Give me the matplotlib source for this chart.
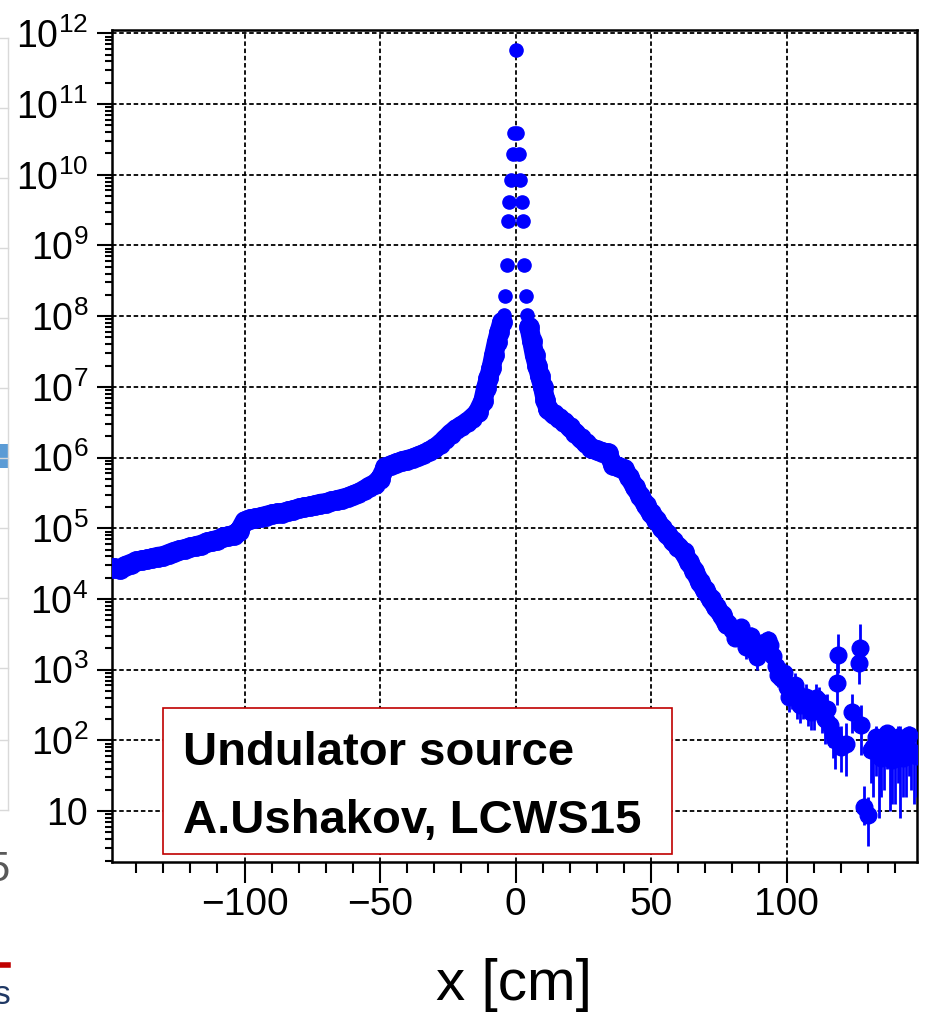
import matplotlib
matplotlib.use('Agg')
import matplotlib.pyplot as plt
import numpy as np
from matplotlib.lines import Line2D
from matplotlib.patches import Rectangle
from matplotlib.ticker import FixedLocator, LogLocator, NullFormatter, FuncFormatter

# values, counts given as log10
left_x = [-148, -146, -144, -142, -140, -138, -136, -134, -132, -130,
          -128, -126, -124, -122, -120, -118, -116, -114, -112, -110,
          -108, -106, -104, -102, -100, -98, -96, -94, -92, -90,
          -88, -86, -84, -82, -80, -78, -76, -74, -72, -70,
          -68, -66, -64, -62, -60, -58, -56, -54, -52, -50,
          -48, -46, -44, -42, -40, -38, -36, -34, -32, -30,
          -28, -26, -24, -22, -20, -18, -16, -14, -12, -11,
          -10, -9, -8, -7, -6, -5]
left_log = [4.44, 4.42, 4.47, 4.50, 4.53, 4.55, 4.56, 4.58, 4.60, 4.61,
            4.64, 4.67, 4.69, 4.71, 4.73, 4.75, 4.77, 4.80, 4.82, 4.84,
            4.87, 4.89, 4.91, 4.96, 5.10, 5.13, 5.14, 5.16, 5.18, 5.20,
            5.21, 5.22, 5.24, 5.26, 5.28, 5.30, 5.31, 5.33, 5.35, 5.36,
            5.38, 5.40, 5.42, 5.44, 5.47, 5.50, 5.54, 5.59, 5.63, 5.70,
            5.86, 5.89, 5.92, 5.95, 5.97, 5.99, 6.02, 6.05, 6.09, 6.13,
            6.19, 6.26, 6.34, 6.40, 6.45, 6.50, 6.56, 6.64, 6.80, 6.98,
            7.12, 7.26, 7.45, 7.63, 7.78, 7.92]

peak_x = [-4.2, -3.75, -3.3, -2.8, -2.3, -1.6, -1.1, -0.55, 0,
          0.55, 1.1, 1.6, 2.3, 2.8, 3.3, 3.75, 4.2]
peak_log = [8.01, 8.28, 8.72, 9.34, 9.62, 9.92, 10.29, 10.59, 11.77,
            10.59, 10.29, 9.92, 9.62, 9.34, 8.72, 8.28, 8.01]

right_x = [5, 6, 7, 8, 9, 10, 11, 12, 14, 16, 18, 20, 22, 24, 26, 28,
           30, 32, 34, 36, 38, 40, 42, 44, 46, 48, 50, 52, 54, 56, 58,
           60, 62, 64, 66, 68, 70, 72, 74, 76, 78]
right_log = [7.85, 7.65, 7.45, 7.30, 7.15, 7.00, 6.82, 6.68, 6.61, 6.56,
             6.50, 6.43, 6.35, 6.27, 6.20, 6.14, 6.10, 6.08, 6.06, 5.90,
             5.86, 5.84, 5.72, 5.58, 5.46, 5.33, 5.21, 5.12, 5.00, 4.92,
             4.82, 4.74, 4.66, 4.52, 4.40, 4.24, 4.12, 4.00, 3.88, 3.78,
             3.64]

tail_x = [80, 81, 82, 83, 84, 85, 86, 87, 88, 89, 90, 91, 92, 93, 94, 95,
          96, 97, 98, 99, 100, 101, 102, 103,
          104, 105, 106, 107, 108, 109, 110, 111, 112, 113, 114, 115, 116,
          117, 118, 118.5, 119, 120, 122, 124, 126.8, 127.2, 127.5, 128.5,
          130, 131, 132, 133, 134, 135, 136, 137, 138, 139, 140, 141, 142,
          143, 144, 145, 146, 147, 148]
tail_log = [3.56, 3.45, 3.50, 3.60, 3.44, 3.32, 3.36, 3.48, 3.27, 3.18,
            3.24, 3.38, 3.30, 3.42, 3.35, 3.20, 3.05, 2.92, 2.88, 2.95,
            2.75, 2.62, 2.68, 2.78, 2.60, 2.50, 2.55, 2.62, 2.48,
            2.40, 2.42, 2.60, 2.55, 2.40, 2.30, 2.45, 2.22, 2.10, 2.00,
            2.81, 3.21, 1.90, 1.95, 2.40, 3.09, 3.30, 2.22, 1.06, 0.94,
            1.86, 1.90, 2.05, 1.85, 1.75, 1.92, 2.10, 1.95, 1.72, 1.88,
            2.05, 1.96, 1.75, 1.90, 2.08, 1.85, 1.80, 1.78]
tail_lo = [3.45, 3.35, 3.40, 3.50, 3.30, 3.15, 3.22, 3.35, 3.12, 3.00,
           3.08, 3.25, 3.15, 3.30, 3.20, 3.05, 2.95, 2.75, 2.70, 2.80,
           2.55, 2.40, 2.45, 2.60, 2.30, 2.25, 2.30, 2.40, 2.20,
           2.15, 2.15, 2.35, 2.30, 2.10, 1.95, 2.10, 1.90, 1.75, 1.60,
           2.50, 2.95, 1.55, 1.50, 2.10, 2.80, 3.05, 1.80, 0.80, 0.50,
           1.40, 1.20, 1.50, 0.90, 1.20, 1.30, 1.60, 1.00, 1.10, 1.10,
           1.40, 0.90, 1.20, 1.20, 1.50, 1.30, 1.10, 1.20]
tail_hi = [3.66, 3.55, 3.62, 3.70, 3.58, 3.45, 3.50, 3.60, 3.40, 3.30,
           3.38, 3.50, 3.45, 3.55, 3.50, 3.32, 3.15, 3.05, 3.05, 3.10,
           2.95, 2.80, 2.85, 2.95, 2.80, 2.70, 2.75, 2.80, 2.70,
           2.60, 2.65, 2.80, 2.75, 2.60, 2.55, 2.65, 2.50, 2.35, 2.30,
           3.10, 3.50, 2.20, 2.25, 2.65, 3.35, 3.65, 2.50, 1.35, 1.20,
           2.10, 2.15, 2.20, 2.10, 2.00, 2.15, 2.20, 2.20, 1.95, 2.10,
           2.20, 2.20, 2.00, 2.10, 2.20, 2.05, 2.00, 2.00]

x_major = [-100, -50, 0, 50, 100]
y_exponents = [1, 2, 3, 4, 5, 6, 7, 8, 9, 10, 11, 12]

blue = '#0000ff'

plt.rcParams['font.family'] = ['Liberation Sans', 'DejaVu Sans']

fig = plt.figure(figsize=(9.25, 10.18), dpi=100)
ax = fig.add_axes([111.7 / 925, 1 - 862 / 1018, 805 / 925, 832 / 1018])

# continuous part of the distribution, drawn as overlapping dots
for xs, ls in ((left_x, left_log), (right_x, right_log)):
    ax.plot(xs, 10 ** np.array(ls), color=blue, lw=14, marker='o', ms=14,
            solid_capstyle='round', zorder=3)
ax.plot(peak_x, 10 ** np.array(peak_log), 'o', color=blue, ms=9.5, zorder=3)

ty = 10 ** np.array(tail_log)
yerr = [ty - 10 ** np.array(tail_lo), 10 ** np.array(tail_hi) - ty]
ax.errorbar(tail_x, ty, yerr=yerr, fmt='o', color=blue, ms=12,
            elinewidth=2, capsize=0, zorder=3)

ax.set_yscale('log')
ax.set_xlim(-149, 148)
ax.set_ylim(10 ** 0.28, 10 ** 12.047)

ax.xaxis.set_major_locator(FixedLocator(x_major))
ax.xaxis.set_minor_locator(FixedLocator(np.arange(-140, 150, 10)))
ax.xaxis.set_major_formatter(FuncFormatter(lambda v, p: f'{int(v)}'.replace('-', '\u2212')))

ax.yaxis.set_major_locator(FixedLocator([10.0 ** e for e in y_exponents]))
ax.yaxis.set_minor_locator(LogLocator(base=10, subs=np.arange(2, 10), numticks=30))
ax.yaxis.set_minor_formatter(NullFormatter())


def ylab(v, pos):
    e = int(round(np.log10(v)))
    return '10' if e == 1 else r'$\mathregular{10^{%d}}$' % e


ax.yaxis.set_major_formatter(FuncFormatter(ylab))

ax.tick_params(axis='x', which='major', direction='out', length=15, width=1.5,
               labelsize=28, pad=3)
ax.tick_params(axis='x', which='minor', direction='out', length=8, width=1.5)
ax.tick_params(axis='y', which='major', direction='out', length=11, width=1.5,
               labelsize=27, pad=6)
ax.tick_params(axis='y', which='minor', direction='out', length=5, width=1.5)
ax.tick_params(top=False, right=False, which='both')

for s in ax.spines.values():
    s.set_linewidth(1.8)
    s.set_color('black')

ax.grid(True, which='major', color='black', lw=1.3, linestyle=(0, (2.5, 1.5)))
ax.set_axisbelow(True)

fig.text(514 / 925, 1 - 985 / 1018, 'x [cm]', fontsize=42, ha='center', va='center')

# credit box
fig.add_artist(Rectangle((163 / 925, 1 - 854 / 1018), 509 / 925, 146 / 1018,
                         transform=fig.transFigure, fc='white', ec='#c00000',
                         lw=1.2, zorder=5))
for txt, yb in (('Undulator source', 765), ('A.Ushakov, LCWS15', 833)):
    fig.text(183 / 925, 1 - yb / 1018, txt, fontsize=34, fontweight='bold',
             va='baseline', zorder=6)

# remnants of the neighbouring slide content at the left edge
fig.add_artist(Line2D([8 / 925, 8 / 925], [1 - 38 / 1018, 1 - 810 / 1018],
                      transform=fig.transFigure, color='#d9d9d9', lw=1))
for yp in [38, 108, 178, 248, 318, 388, 458, 528, 598, 668, 740, 810]:
    fig.add_artist(Line2D([0, 8 / 925], [1 - yp / 1018, 1 - yp / 1018],
                          transform=fig.transFigure, color='#d9d9d9', lw=1))
fig.add_artist(Rectangle((0, 1 - 468 / 1018), 9 / 925, 24 / 1018,
                         transform=fig.transFigure, fc='#5b9bd5', ec='none'))
fig.add_artist(Line2D([0, 8 / 925], [1 - 965 / 1018, 1 - 965 / 1018],
                      transform=fig.transFigure, color='#c00000', lw=4))
fig.text(10 / 925, 1 - 870 / 1018, '5', fontsize=30, color='#595959',
         ha='right', va='center')
fig.text(10 / 925, 1 - 996 / 1018, 's', fontsize=24, color='#1f3864',
         ha='right', va='center')

fig.savefig('out.png', dpi=100)
